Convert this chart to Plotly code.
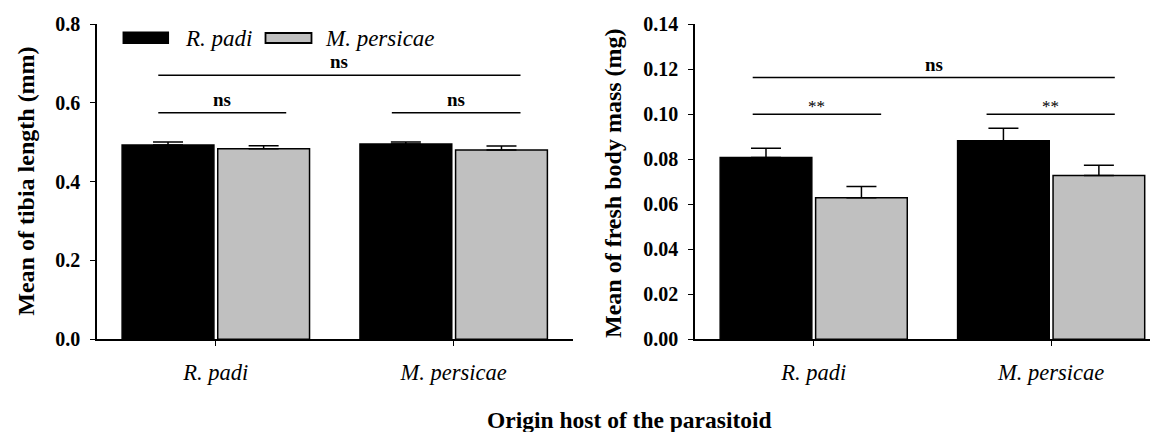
import plotly.graph_objects as go

# ---------------- data ----------------
hosts = ["R. padi", "M. persicae"]          # origin host of the parasitoid (x categories)
series = ["R. padi", "M. persicae"]         # legend series
tibia_rpadi = [0.493, 0.4955]
tibia_rpadi_se = [0.0076, 0.005]
tibia_mpers = [0.4837, 0.4803]
tibia_mpers_se = [0.0076, 0.010]
mass_rpadi = [0.0807, 0.0882]
mass_rpadi_se = [0.0041, 0.0055]
mass_mpers = [0.0629, 0.0727]
mass_mpers_se = [0.0049, 0.0046]
left_ticks = [0.0, 0.2, 0.4, 0.6, 0.8]
right_ticks = [0.00, 0.02, 0.04, 0.06, 0.08, 0.10, 0.12, 0.14]
left_sig = ["ns", "ns", "ns"]
right_sig = ["ns", "**", "**"]

W, H = 1158, 432
FONT = "Liberation Serif"
OFF = 8  # page body margin offset (px) compensated in layout positions
px = lambda v: (v - OFF) / W
py = lambda v: 1 - (v - OFF) / H

xpos = list(range(len(hosts)))
BW = 0.386
colors = ["black", "#c0c0c0"]

fig = go.Figure()

def add_bars(vals, se, xa, ya, color, offset, name):
    fig.add_trace(go.Bar(
        x=xpos, y=vals, width=BW, offset=offset, name=name,
        marker=dict(color=color, line=dict(color="black", width=1.5)),
        error_y=dict(type="data", array=se, arrayminus=[0] * len(se), symmetric=False,
                     color="black", thickness=1.5, width=15),
        xaxis=xa, yaxis=ya, showlegend=False))

add_bars(tibia_rpadi, tibia_rpadi_se, "x", "y", colors[0], -0.394, series[0])
add_bars(tibia_mpers, tibia_mpers_se, "x", "y", colors[1], 0.008, series[1])
add_bars(mass_rpadi, mass_rpadi_se, "x2", "y2", colors[0], -0.394, series[0])
add_bars(mass_mpers, mass_mpers_se, "x2", "y2", colors[1], 0.008, series[1])

tickfont = dict(family=FONT, size=20, color="black")
xtickfont = dict(family=FONT, size=22.5, color="black")
common_x = dict(showgrid=False, zeroline=False, showline=True, linecolor="black", linewidth=1.5,
                ticks="outside", ticklen=5, tickwidth=1.2, tickcolor="black",
                tickvals=xpos, ticktext=["<i>%s</i>" % h for h in hosts],
                tickfont=xtickfont, ticklabelstandoff=7, automargin=False)
common_y = dict(showgrid=False, zeroline=False, showline=True, linecolor="black", linewidth=1.5,
                ticks="outside", ticklen=5, tickwidth=1.2, tickcolor="black",
                tickfont=tickfont, ticklabelstandoff=6, automargin=False)

ydom = [py(339.3), py(24)]
fig.update_layout(
    width=W, height=H, autosize=False,
    margin=dict(l=0, r=0, t=0, b=0, pad=0, autoexpand=False),
    plot_bgcolor="white", paper_bgcolor="white", barmode="overlay",
    xaxis=dict(domain=[px(96.9), px(572.6)], range=[-0.5, 1.5], anchor="y", **common_x),
    yaxis=dict(domain=ydom, range=[0, 0.8], tickvals=left_ticks,
               ticktext=["<b>%.1f</b>" % v for v in left_ticks], anchor="x", **common_y),
    xaxis2=dict(domain=[px(695), px(1158)], range=[-0.5, 1.45], anchor="y2", **common_x),
    yaxis2=dict(domain=ydom, range=[0, 0.14], tickvals=right_ticks,
                ticktext=["<b>%.2f</b>" % v for v in right_ticks], anchor="x2", **common_y),
    font=dict(family=FONT, color="black"),
)

shapes = []
annos = []

def sig(xr, yr, x0, x1, y, label, bold=True, size=19, yshift=1):
    shapes.append(dict(type="line", xref=xr, yref=yr, x0=x0, x1=x1, y0=y, y1=y,
                       line=dict(color="black", width=1.5)))
    txt = "<b>%s</b>" % label if bold else label
    annos.append(dict(xref=xr, yref=yr, x=(x0 + x1) / 2, y=y, text=txt, showarrow=False,
                      xanchor="center", yanchor="bottom", yshift=yshift,
                      font=dict(family=FONT, size=size, color="black")))

# left panel significance
sig("x", "y", -0.242, 1.281, 0.670, left_sig[0])
sig("x", "y", -0.242, 0.296, 0.575, left_sig[1])
sig("x", "y", 0.740, 1.281, 0.575, left_sig[2])
# right panel significance
sig("x2", "y2", -0.257, 1.268, 0.1162, right_sig[0])
sig("x2", "y2", -0.257, 0.284, 0.0999, right_sig[1], bold=False, size=17, yshift=-4)
sig("x2", "y2", 0.728, 1.268, 0.0999, right_sig[2], bold=False, size=17, yshift=-4)

# legend (manual, wide swatches)
shapes.append(dict(type="rect", xref="paper", yref="paper", x0=px(123.3), x1=px(168.3),
                   y0=py(43.3), y1=py(32.3), fillcolor=colors[0], line=dict(color="black", width=1.5)))
shapes.append(dict(type="rect", xref="paper", yref="paper", x0=px(265.5), x1=px(311.5),
                   y0=py(43.0), y1=py(33.0), fillcolor=colors[1], line=dict(color="black", width=1.8)))
annos.append(dict(xref="paper", yref="paper", x=px(182.5), y=py(38.8), text="<i>%s</i>" % series[0],
                  showarrow=False, xanchor="left", yanchor="middle",
                  font=dict(family=FONT, size=23, color="black")))
annos.append(dict(xref="paper", yref="paper", x=px(322.5), y=py(38.8), text="<i>%s</i>" % series[1],
                  showarrow=False, xanchor="left", yanchor="middle",
                  font=dict(family=FONT, size=23, color="black")))

# axis titles
annos.append(dict(xref="paper", yref="paper", x=px(26), y=py(181.7), text="<b>Mean of tibia length (mm)</b>",
                  textangle=-90, showarrow=False, xanchor="center", yanchor="middle",
                  font=dict(family=FONT, size=24, color="black")))
annos.append(dict(xref="paper", yref="paper", x=px(613), y=py(183), text="<b>Mean of fresh body mass (mg)</b>",
                  textangle=-90, showarrow=False, xanchor="center", yanchor="middle",
                  font=dict(family=FONT, size=24, color="black")))
annos.append(dict(xref="paper", yref="paper", x=px(629), y=py(420), text="<b>Origin host of the parasitoid</b>",
                  showarrow=False, xanchor="center", yanchor="middle",
                  font=dict(family=FONT, size=23.5, color="black")))

fig.update_layout(shapes=shapes, annotations=annos)
fig.write_html("out.html")
